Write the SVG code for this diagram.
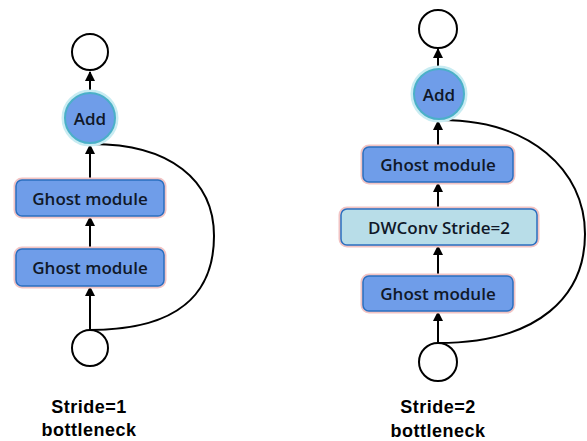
<svg xmlns="http://www.w3.org/2000/svg" width="587" height="441" viewBox="0 0 587 441">
<style>
.io{fill:#fff;stroke:#000;stroke-width:2}
.glow{fill:none;stroke:#f2c4c4;stroke-width:5}
.box{fill:#6f9de9;stroke:#2a6fc0;stroke-width:1.5}
.dw{fill:#b8dde8;stroke:#2a6fc0;stroke-width:1.5}
.addglow{fill:none;stroke:#c8ecf2;stroke-width:5}
.add{fill:#6f9de9;stroke:#4bb0c8;stroke-width:2}
.lbl{font-family:"Open Sans","Liberation Sans",sans-serif;font-weight:600;font-size:17px;fill:#101828;text-anchor:middle;dominant-baseline:central}
.cap{font-family:"Liberation Sans",Arial,sans-serif;font-weight:bold;font-size:18px;fill:#000;text-anchor:middle;letter-spacing:0.5px}
.ln{fill:none;stroke:#000;stroke-width:2}
</style>
<defs>
<marker id="ah" viewBox="0 0 10 10" refX="9" refY="5" markerWidth="5" markerHeight="5" orient="auto" markerUnits="strokeWidth">
<path d="M0,0 L10,5 L0,10 z" fill="#000"/>
</marker>
</defs>

<g id="connectors">
<line class="ln" x1="90" y1="330" x2="90" y2="287" marker-end="url(#ah)"/>
<line class="ln" x1="90" y1="249" x2="90" y2="217" marker-end="url(#ah)"/>
<line class="ln" x1="90" y1="180" x2="90" y2="145" marker-end="url(#ah)"/>
<line class="ln" x1="90" y1="92" x2="90" y2="72" marker-end="url(#ah)"/>
<path class="ln" d="M90,330 C180,330 214,292 214,236 C214,180 170,144 92,144"/>

<line class="ln" x1="438" y1="343" x2="438" y2="312" marker-end="url(#ah)"/>
<line class="ln" x1="438" y1="276" x2="438" y2="246" marker-end="url(#ah)"/>
<line class="ln" x1="438" y1="209" x2="438" y2="183" marker-end="url(#ah)"/>
<line class="ln" x1="438" y1="147" x2="438" y2="121" marker-end="url(#ah)"/>
<line class="ln" x1="438" y1="68" x2="438" y2="49" marker-end="url(#ah)"/>
<path class="ln" d="M438,343 C540,343 585,295 585,234 C585,170 530,120 441,120"/>
</g>

<g id="left-out"><circle class="io" cx="90" cy="52" r="18"/></g>
<g id="left-add">
<circle class="addglow" cx="90" cy="118" r="26"/>
<circle class="add" cx="90" cy="118" r="25"/>
<text class="lbl" x="90" y="118">Add</text>
</g>
<g id="left-ghost1">
<rect class="glow" x="16" y="180" width="148" height="36" rx="6"/>
<rect class="box" x="16" y="180" width="148" height="36" rx="6"/>
<text class="lbl" x="90" y="198">Ghost module</text>
</g>
<g id="left-ghost2">
<rect class="glow" x="16" y="249" width="148" height="37" rx="6"/>
<rect class="box" x="16" y="249" width="148" height="37" rx="6"/>
<text class="lbl" x="90" y="267.5">Ghost module</text>
</g>
<g id="left-in"><circle class="io" cx="90" cy="348" r="18"/></g>
<g id="left-caption">
<text class="cap" x="89" y="413">Stride=1</text>
<text class="cap" x="89" y="436">bottleneck</text>
</g>

<g id="right-out"><circle class="io" cx="438" cy="29" r="19"/></g>
<g id="right-add">
<circle class="addglow" cx="439" cy="94" r="26"/>
<circle class="add" cx="439" cy="94" r="25"/>
<text class="lbl" x="439" y="94">Add</text>
</g>
<g id="right-ghost1">
<rect class="glow" x="363" y="147" width="150" height="35" rx="6"/>
<rect class="box" x="363" y="147" width="150" height="35" rx="6"/>
<text class="lbl" x="438" y="164.5">Ghost module</text>
</g>
<g id="right-dwconv">
<rect class="glow" x="341" y="209" width="196" height="36" rx="6"/>
<rect class="dw" x="341" y="209" width="196" height="36" rx="6"/>
<text class="lbl" x="439" y="227">DWConv Stride=2</text>
</g>
<g id="right-ghost2">
<rect class="glow" x="363" y="276" width="150" height="35" rx="6"/>
<rect class="box" x="363" y="276" width="150" height="35" rx="6"/>
<text class="lbl" x="438" y="293.5">Ghost module</text>
</g>
<g id="right-in"><circle class="io" cx="438" cy="362" r="19"/></g>
<g id="right-caption">
<text class="cap" x="438" y="413">Stride=2</text>
<text class="cap" x="438" y="437">bottleneck</text>
</g>
</svg>
